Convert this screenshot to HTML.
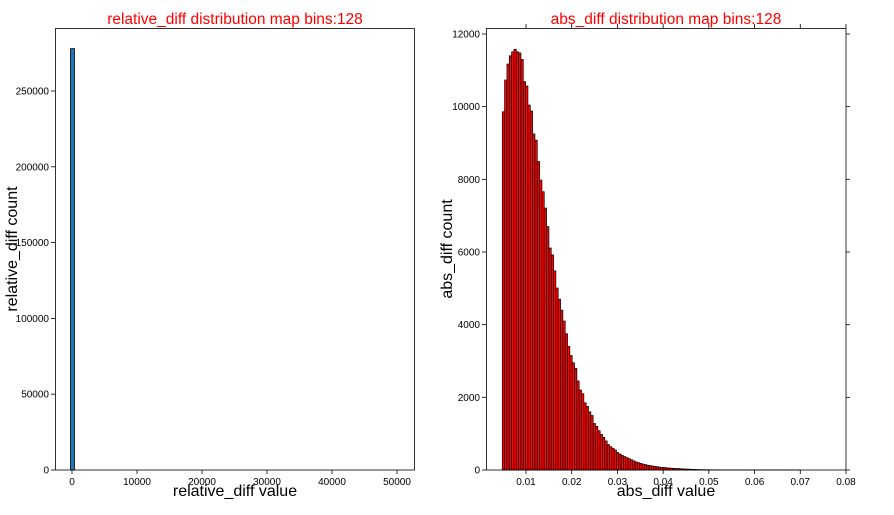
<!DOCTYPE html>
<html><head><meta charset="utf-8"><style>
body{margin:0;background:#fff;}
svg text{font-family:"Liberation Sans","DejaVu Sans",sans-serif;}
</style></head><body>
<svg id="s" width="894" height="510" xmlns="http://www.w3.org/2000/svg">
<rect width="894" height="510" fill="#fff"/>
<!-- left -->
<text x="235" y="24" fill="red" font-size="15.5" text-anchor="middle">relative_diff distribution map bins:128</text>
<rect x="70.5" y="48.6" width="4" height="421.4" fill="#1f77b4" stroke="#000" stroke-width="0.8"/>
<rect x="55.5" y="28.5" width="359" height="441.5" fill="none" stroke="#000" stroke-width="0.8"/>
<g id="lt" font-size="10" fill="#000"></g>
<text x="235" y="496" font-size="16" text-anchor="middle">relative_diff value</text>
<text transform="translate(17,249) rotate(-90)" font-size="16" text-anchor="middle">relative_diff count</text>
<!-- right -->
<text x="666" y="24" fill="red" font-size="15.5" text-anchor="middle">abs_diff distribution map bins:128</text>
<g id="bars"></g>
<rect x="486.5" y="28.5" width="359.5" height="441.5" fill="none" stroke="#000" stroke-width="0.8"/>
<g id="rt" font-size="10" fill="#000"></g>
<text x="666" y="496" font-size="16" text-anchor="middle">abs_diff value</text>
<text transform="translate(452,249) rotate(-90)" font-size="16" text-anchor="middle">abs_diff count</text>
</svg>
<script>
var NS="http://www.w3.org/2000/svg";
function el(p,t,a,txt){var e=document.createElementNS(NS,t);for(var k in a)e.setAttribute(k,a[k]);if(txt!=null)e.textContent=txt;document.getElementById(p).appendChild(e);}
for(var i=0;i<=5;i++){var x=72+i*65;el('lt','line',{x1:x,x2:x,y1:470,y2:474,stroke:'#000','stroke-width':0.8});el('lt','text',{x:x,y:485,'text-anchor':'middle'},String(i*10000));}
for(var i=0;i<=5;i++){var y=470-i*75.8;el('lt','line',{x1:51,x2:55,y1:y,y2:y,stroke:'#000','stroke-width':0.8});el('lt','text',{x:49,y:y+3.5,'text-anchor':'end'},String(i*50000));}
var xs=[0.01,0.02,0.03,0.04,0.05,0.06,0.07,0.08];
xs.forEach(function(v,i){var x=480.3+v*4571;el('rt','line',{x1:x,x2:x,y1:470,y2:474,stroke:'#000','stroke-width':0.8});el('rt','line',{x1:x,x2:x,y1:28,y2:24,stroke:'#000','stroke-width':0.8});el('rt','text',{x:x,y:485,'text-anchor':'middle'},v.toFixed(2));});
for(var i=0;i<=6;i++){var y=470-i*72.67;el('rt','line',{x1:482,x2:486,y1:y,y2:y,stroke:'#000','stroke-width':0.8});el('rt','line',{x1:846,x2:850,y1:y,y2:y,stroke:'#000','stroke-width':0.8});el('rt','text',{x:480,y:y+3.5,'text-anchor':'end'},String(i*2000));}
var d=[9860,10735,11175,11400,11510,11580,11510,11480,11300,10690,10570,10045,9880,9250,9080,8490,7980,7660,7210,6700,6110,5920,5480,5010,4700,4400,4100,3750,3400,3150,2950,2800,2450,2200,2100,1850,1750,1600,1500,1280,1200,1080,980,900,800,700,640,600,550,480,440,400,370,340,310,280,250,220,200,180,160,150,130,120,110,100,90,80,70,70,60,55,50,45,40,40,35,30,27,24,20,18,16,14,12,10,9,8,7,6,5,5,4,4,3,3,2,2,2,1,1,1,1,1,1,1,1,1,1,1,1,1,1,1,1,1,1,1,1,1,1,1,1,1,1,1,1,1];
var w=2.33,x0=502.3;
for(var i=0;i<128;i++){var h=(d[i]||1)*0.03633;el('bars','rect',{x:x0+i*w,y:470-h,width:w,height:h,fill:'#ff0000',stroke:'#000','stroke-width':0.7});}
</script>
</body></html>
